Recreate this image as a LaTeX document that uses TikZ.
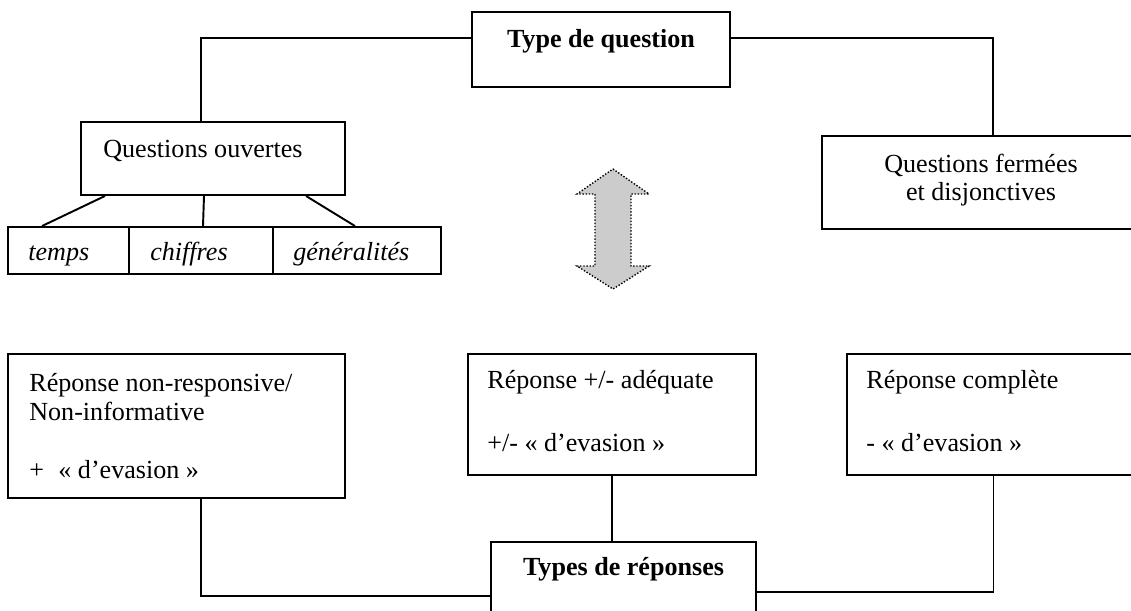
\documentclass[tikz,border=0pt]{standalone}
\usepackage{fontspec}
\setmainfont{Liberation Serif}
\tikzset{
  box/.style={draw, line width=1.1pt, inner sep=0pt},
  txt/.style={inner sep=0pt, anchor=base west, font=\fontsize{14.85}{17}\selectfont},
  link/.style={line width=1.1pt},
}
\begin{document}
\begin{tikzpicture}[x=0.02cm, y=-0.02cm]
  \useasboundingbox (0,0) rectangle (1131,610);
  \clip (0,0) rectangle (1131,610);
  % boxes
  \node[box, minimum width=5.16cm, minimum height=1.5cm] (typeq) at (601,49.5) {};
  \node[box, minimum width=5.28cm, minimum height=1.46cm] (ouv) at (213,158.5) {};
  \node[box, minimum width=2.42cm, minimum height=0.94cm] (temps) at (68.5,250.5) {};
  \node[box, minimum width=2.88cm, minimum height=0.94cm] (chif) at (201,250.5) {};
  \node[box, minimum width=3.36cm, minimum height=0.94cm] (gen) at (357,250.5) {};
  \node[box, minimum width=6.36cm, minimum height=1.86cm] (ferm) at (981,182.5) {};
  \node[box, minimum width=6.74cm, minimum height=2.88cm] (neg) at (176.5,426) {};
  \node[box, minimum width=5.76cm, minimum height=2.42cm] (adeq) at (612,414.5) {};
  \node[box, minimum width=5.86cm, minimum height=2.42cm] (comp) at (993.5,414.5) {};
  \node[box, minimum width=5.3cm, minimum height=1.5cm] (types) at (623.5,579.5) {};
  % texts
  \node[txt, anchor=base] (typeq-t) at (601,47) {\textbf{Type de question}};
  \node[txt] (ouv-t) at (103,157) {Questions ouvertes};
  \node[txt] (temps-t) at (28,260) {\textit{temps}};
  \node[txt] (chif-t) at (150,260) {\textit{chiffres}};
  \node[txt] (gen-t) at (293,260) {\textit{généralités}};
  \node[txt, anchor=base] (ferm-t1) at (981,172) {Questions fermées};
  \node[txt, anchor=base] (ferm-t2) at (981,200) {et disjonctives};
  \node[txt] (neg-t1) at (29,391) {Réponse non-responsive/};
  \node[txt] (neg-t2) at (29,420) {Non-informative};
  \node[txt] (neg-t3) at (29,478) {+\hspace{0.55em}« d’evasion »};
  \node[txt] (adeq-t1) at (487,388) {Réponse +/- adéquate};
  \node[txt] (adeq-t2) at (487,451) {+/- « d’evasion »};
  \node[txt] (comp-t1) at (866,388) {Réponse complète};
  \node[txt] (comp-t2) at (866,451) {- « d’evasion »};
  \node[txt, anchor=base] (types-t) at (623.5,575) {\textbf{Types de réponses}};
  % double arrow
  \draw[densely dotted, line width=0.8pt, fill=black!20]
    (613,169) -- (649,194) -- (631,194) -- (631,266) -- (649,266) -- (613,289)
    -- (577,266) -- (595,266) -- (595,194) -- (577,194) -- cycle;
  \begin{scope}[link]
    \draw (typeq.west |- 0,38) -| (ouv.north -| 201,0);
    \draw (typeq.east |- 0,38) -| (ferm.north -| 993,0);
    \draw (ouv.south -| 105,0) -- (temps.north -| 42,0);
    \draw (ouv.south -| 204,0) -- (chif.north -| 203,0);
    \draw (ouv.south -| 306,0) -- (gen.north -| 355,0);
    \draw (neg.south -| 201,0) |- (types.west |- 0,596);
    \draw (adeq.south) -- (adeq.south |- types.north);
    \draw (comp.south) |- (types.east |- 0,592);
  \end{scope}
\end{tikzpicture}
\end{document}
